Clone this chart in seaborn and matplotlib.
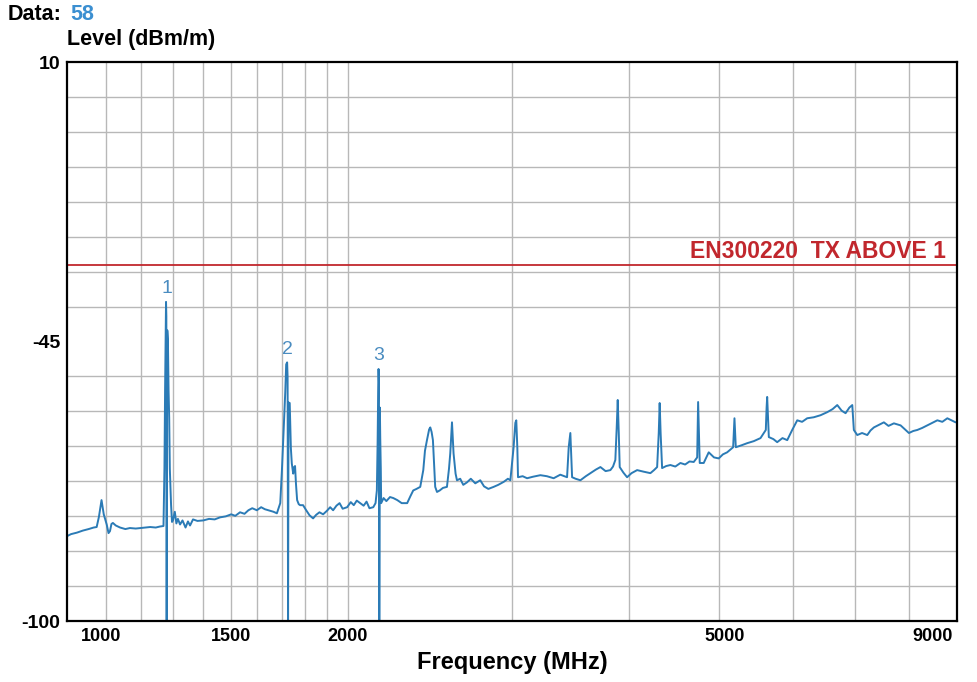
import numpy as np
import pandas as pd
import matplotlib
matplotlib.use("Agg")
import matplotlib.pyplot as plt
import matplotlib.transforms as mtransforms
import seaborn as sns

sns.set_style(style='white')
plt.rcParams['font.family'] = ['Liberation Sans', 'DejaVu Sans']
plt.rcParams['text.color'] = 'black'
plt.rcParams['ytick.color'] = 'black'

# trace (MHz, dBm/m)
freq_mhz = [
    1000, 1010, 1025, 1040, 1055, 1068, 1076, 1082, 1089, 1095, 1103, 1108, 1112, 1116, 1120,
    1128, 1140, 1155, 1168, 1185, 1200, 1215, 1228, 1245, 1258, 1269,
    1272, 1274, 1276, 1277, 1278, 1279, 1280, 1281, 1283, 1285, 1287, 1289, 1293, 1296, 1299,
    1305, 1310, 1315, 1322, 1330, 1340, 1348, 1355, 1365, 1380, 1400, 1420, 1440, 1459, 1480,
    1500, 1515, 1533, 1550, 1565, 1580, 1598, 1615, 1630, 1650, 1665, 1679, 1693,
    1700, 1705, 1709, 1714, 1718, 1722, 1724, 1726, 1728, 1733, 1738, 1742, 1748, 1752, 1756,
    1760, 1765, 1772, 1778, 1791, 1805, 1820, 1836, 1850, 1865, 1882, 1900, 1915, 1929, 1945,
    1960, 1975, 1997, 2015, 2030, 2045, 2062, 2080, 2095, 2110, 2130, 2142, 2149,
    2153, 2156, 2158, 2160, 2162, 2165, 2167, 2170, 2172, 2185, 2200, 2220, 2238, 2260, 2285,
    2316, 2335, 2351, 2370, 2392, 2410, 2420, 2432, 2445, 2452, 2460, 2468, 2475, 2482, 2493,
    2510, 2530, 2555, 2568, 2576, 2587, 2597, 2610, 2619, 2640, 2660, 2685, 2710, 2740, 2774,
    2800, 2830, 2867, 2900, 2940, 2970, 2988, 3012, 3025, 3032, 3040, 3045, 3080, 3114, 3160,
    3218, 3270, 3325, 3380, 3437, 3451, 3465, 3472, 3480, 3510, 3552, 3600, 3641, 3690, 3732,
    3780, 3825, 3850, 3872, 3885, 3895, 3905, 3914, 3950, 3986, 4030, 4086, 4150, 4222, 4260,
    4293, 4310, 4320, 4330, 4346, 4390, 4436, 4490, 4547, 4600, 4650, 4699, 4739, 4745, 4750,
    4758, 4769, 4816, 4876, 4940, 4998, 5050, 5103, 5179, 5190, 5196, 5205, 5213, 5290, 5362,
    5450, 5541, 5614, 5625, 5633, 5645, 5656, 5720, 5774, 5850, 5919, 5992, 6067, 6140, 6218,
    6320, 6426, 6533, 6620, 6697, 6770, 6836, 6900, 6950, 6977, 7036, 7120, 7212, 7270, 7331,
    7420, 7514, 7600, 7702, 7831, 7993, 8080, 8160, 8260, 8365, 8470, 8574, 8680, 8788, 8880,
    8970,
]
level_dbm = [
    -83.3, -82.9, -82.6, -82.2, -81.9, -81.6, -81.5, -79.5, -76.2, -79.0, -81.0, -82.7, -82.3, -80.9, -80.7,
    -81.2, -81.6, -81.9, -81.7, -81.8, -81.7, -81.6, -81.5, -81.6, -81.4, -81.3,
    -70.0, -54.6, -44.0, -37.2, -40.0, -100.0, -60.0, -42.8, -45.0, -54.6, -60.0, -70.0, -77.2, -80.5, -80.2,
    -78.5, -80.8, -79.9, -81.0, -80.2, -81.6, -80.4, -81.2, -80.0, -80.3, -80.2, -79.9, -80.0, -79.6, -79.4,
    -79.0, -79.3, -78.6, -78.9, -78.2, -77.8, -78.2, -77.6, -78.0, -78.3, -78.5, -78.8, -76.8,
    -70.3, -65.0, -60.5, -55.0, -49.5, -49.1, -52.0, -100.0, -57.0, -57.1, -66.0, -69.0, -71.0, -69.7, -69.5,
    -73.0, -76.2, -77.0, -77.2, -77.2, -78.2, -79.2, -79.8, -79.1, -78.6, -79.0, -78.3, -77.6, -78.2, -77.3,
    -76.8, -77.9, -77.6, -76.6, -77.2, -76.3, -76.8, -77.3, -76.5, -77.8, -77.6, -76.8, -74.3,
    -65.0, -55.0, -50.4, -53.0, -100.0, -58.0, -63.8, -70.0, -76.8, -75.8, -76.4, -75.6, -75.8, -76.2, -76.8,
    -76.8, -75.4, -74.3, -74.0, -73.6, -70.3, -66.5, -64.4, -62.3, -61.9, -62.8, -64.4, -69.0, -73.6, -74.6,
    -74.3, -73.8, -73.6, -70.0, -67.0, -60.9, -67.0, -71.0, -72.3, -72.0, -73.2, -72.7, -72.0, -72.9, -72.3,
    -73.5, -74.0, -73.6, -73.2, -72.6, -72.0, -72.3, -65.8, -61.0, -60.5, -66.0, -71.7, -71.5, -71.9, -71.6,
    -71.3, -71.5, -71.9, -71.2, -71.7, -65.8, -63.0, -67.0, -71.7, -72.0, -72.3, -71.5, -70.9, -70.2, -69.7,
    -70.5, -70.3, -69.6, -68.3, -62.0, -56.5, -63.0, -69.7, -70.8, -71.7, -70.9, -70.3, -70.6, -70.9, -70.3,
    -69.7, -63.0, -57.1, -63.0, -69.9, -69.5, -69.3, -69.6, -68.9, -69.2, -68.6, -68.7, -67.8, -62.0, -56.9,
    -62.0, -68.9, -68.9, -66.8, -67.8, -68.0, -67.2, -66.8, -65.8, -62.0, -60.1, -63.0, -65.8, -65.4, -65.0,
    -64.6, -64.0, -62.4, -58.0, -55.9, -60.0, -63.8, -64.2, -64.8, -64.0, -64.4, -62.4, -60.5, -60.8, -60.1,
    -59.9, -59.5, -58.9, -58.3, -57.5, -58.6, -59.1, -58.0, -57.5, -62.4, -63.4, -63.0, -63.4, -62.5, -61.9,
    -61.4, -60.9, -61.6, -61.1, -61.5, -63.0, -62.6, -62.4, -62.0, -61.5, -61.0, -60.5, -60.8, -60.1, -60.5,
    -60.9,
]

limit_level = -30
limit_label = "EN300220  TX ABOVE 1"

marker_ids = ["1", "2", "3"]
marker_freq = [1279, 1722, 2158]
marker_label_level = [-34.5, -46.5, -47.7]

xtick_vals = [1000, 1500, 2000, 5000, 9000]
ytick_vals = [10, -45, -100]
xgrid = [1100, 1200, 1300, 1400, 1500, 1600, 1700, 1800, 1900, 2000,
         3000, 4000, 5000, 6000, 7000, 8000]
ygrid = [10 - k * 110 / 16 for k in range(1, 16)]

trace_color = '#2b7bb6'
grid_color = '#b8b8b8'
red = '#c1272d'

df = pd.DataFrame({"Frequency": freq_mhz, "Level": level_dbm})

fig = plt.figure(figsize=(9.78, 6.82), dpi=100)
ax = fig.add_axes([0.0685, 0.0894, 0.910, 0.8196])

ax.set_xscale('log')
ax.set_xlim(1000, 9000)
ax.set_ylim(-100, 10)

ax.set_xticks(xgrid, minor=True)
ax.set_yticks(ygrid, minor=True)
ax.set_xticks([])
ax.set_yticks(ytick_vals)
ax.set_yticklabels([str(v) for v in ytick_vals], fontsize=14, fontweight='bold', color='black')
ax.xaxis.set_minor_formatter(plt.NullFormatter())
ax.tick_params(which='both', length=0)
ax.tick_params(axis='y', pad=5)
ax.grid(which='minor', color=grid_color, linewidth=1)
ax.set_axisbelow(True)

sns.lineplot(data=df, x="Frequency", y="Level", estimator=None, sort=False,
             color=trace_color, linewidth=1.4, ax=ax)
ax.set_xlabel("")
ax.set_ylabel("")

ax.axhline(limit_level, color=red, linewidth=1.3)
ax.text(8752, limit_level + 1.4, limit_label, color=red, fontsize=16.5,
        fontweight='bold', ha='right', va='baseline')

for mid, mf, ml in zip(marker_ids, marker_freq, marker_label_level):
    ax.text(mf, ml, mid, color='#4a8cc0', fontsize=14, ha='center', va='center')

for sp in ax.spines.values():
    sp.set_color('black')
    sp.set_linewidth(1.6)

# x labels drawn as text so the end ones can sit inside the frame
offsets = {1000: 34, 5000: 6, 9000: -24}
for v in xtick_vals:
    tr = mtransforms.blended_transform_factory(ax.transData, ax.transAxes)
    tr = tr + mtransforms.ScaledTranslation(offsets.get(v, 0) / 100, 0, fig.dpi_scale_trans)
    ax.text(v, -0.012, str(v), transform=tr, fontsize=13, fontweight='bold',
            ha='center', va='top')

fig.text(512 / 978, 1 - 663 / 682, "Frequency (MHz)", fontsize=17, fontweight='bold',
         ha='center', va='center')
fig.text(67 / 978, 1 - 40 / 682, "Level (dBm/m)", fontsize=15.5, fontweight='bold',
         ha='left', va='center')
fig.text(8 / 978, 1 - 14 / 682, "Data:", fontsize=15.5, fontweight='bold',
         ha='left', va='center')
fig.text(70 / 978, 1 - 14 / 682, "58", fontsize=15.5, fontweight='bold', color='#3b8fd1',
         ha='left', va='center')

fig.savefig("out.png", dpi=100)
